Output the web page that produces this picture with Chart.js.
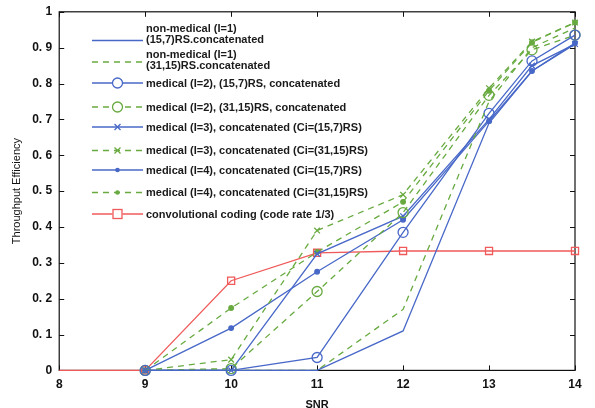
<!DOCTYPE html>
<html><head><meta charset="utf-8">
<script src="https://cdn.jsdelivr.net/npm/chart.js@4.4.1/dist/chart.umd.min.js"></script>
<style>html,body{margin:0;padding:0;background:#fff}#wrap{width:595px;height:408px}</style>
</head><body><div id="wrap"><canvas id="c" width="595" height="408"></canvas></div>
<script>
const snr = [9, 10, 11, 12, 13, 13.5, 14];
const snrConv = [8, 9, 10, 11, 12, 13, 14];
const nonMed157 = [0, 0, 0, 0.11, 0.69, 0.835, 0.91];
const nonMed3115 = [0, 0, 0, 0.17, 0.75, 0.9, 0.955];
const med2_157 = [0, 0, 0.036, 0.385, 0.717, 0.863, 0.935];
const med2_3115 = [0, 0.005, 0.22, 0.44, 0.767, 0.894, 0.935];
const med3_157 = [0, 0, 0.325, 0.43, 0.70, 0.85, 0.91];
const med3_3115 = [0, 0.03, 0.39, 0.49, 0.787, 0.917, 0.97];
const med4_157 = [0, 0.118, 0.275, 0.42, 0.695, 0.835, 0.913];
const med4_3115 = [0, 0.174, 0.33, 0.47, 0.78, 0.915, 0.97];
const convCoding = [0, 0, 0.25, 0.328, 0.333, 0.333, 0.333];
const yTicks = [0, 0.1, 0.2, 0.3, 0.4, 0.5, 0.6, 0.7, 0.8, 0.9, 1];
const xTicks = [8, 9, 10, 11, 12, 13, 14];
const labels = [
  ['non-medical (I=1)', '(15,7)RS.concatenated'],
  ['non-medical (I=1)', '(31,15)RS.concatenated'],
  ['medical (I=2), (15,7)RS, concatenated'],
  ['medical (I=2), (31,15)RS, concatenated'],
  ['medical (I=3), concatenated (Ci=(15,7)RS)'],
  ['medical (I=3), concatenated (Ci=(31,15)RS)'],
  ['medical (I=4), concatenated (Ci=(15,7)RS)'],
  ['medical (I=4), concatenated (Ci=(31,15)RS)'],
  ['convolutional coding (code rate 1/3)']
];

const BLUE = 'rgb(72,104,200)';
const GREEN = 'rgb(104,170,64)';
const RED = 'rgb(240,90,90)';
const DASH = [6, 5];
const pts = (xs, ys) => xs.map((x, i) => ({x, y: ys[i]}));

function ds(i, xs, ys, color, dashed, style, radius, filled) {
  return {
    label: labels[i].join(' '),
    data: pts(xs, ys),
    borderColor: color,
    backgroundColor: filled ? color : 'rgba(0,0,0,0)',
    borderWidth: 1.3,
    borderDash: dashed ? DASH : [],
    pointStyle: style || 'circle',
    pointRadius: style ? radius : 0,
    pointBorderWidth: 1.3,
    pointBorderColor: color,
    pointBackgroundColor: filled ? color : 'rgba(0,0,0,0)',
    tension: 0,
    clip: false
  };
}

const datasets = [
  ds(0, snr, nonMed157, BLUE, false, null, 0, false),
  ds(1, snr, nonMed3115, GREEN, true, null, 0, false),
  ds(2, snr, med2_157, BLUE, false, 'circle', 5, false),
  ds(3, snr, med2_3115, GREEN, true, 'circle', 5, false),
  ds(4, snr, med3_157, BLUE, false, 'crossRot', 4, false),
  ds(5, snr, med3_3115, GREEN, true, 'crossRot', 4, false),
  ds(6, snr, med4_157, BLUE, false, 'circle', 2.3, true),
  ds(7, snr, med4_3115, GREEN, true, 'circle', 2.3, true),
  ds(8, snrConv, convCoding, RED, false, 'rect', 5, false)
];
datasets[8].pointRadius = snrConv.map(x => x === 8 ? 0 : 5);

const legendRows = [40.5, 62, 83, 107, 127, 150.5, 170, 192.5, 214];
const twoLineOffsets = [[-12, -1], [-7, 4]];

const framePlugin = {
  id: 'frame',
  beforeDatasetsDraw(chart) {
    const {ctx, chartArea: a, scales} = chart;
    ctx.save();
    ctx.strokeStyle = '#111';
    ctx.lineWidth = 1.2;
    ctx.strokeRect(a.left, a.top, a.right - a.left, a.bottom - a.top);
    ctx.lineWidth = 1;
    const t = 5;
    xTicks.forEach(v => {
      const x = Math.round(scales.x.getPixelForValue(v)) + 0.5;
      ctx.beginPath();
      ctx.moveTo(x, a.bottom); ctx.lineTo(x, a.bottom - t);
      ctx.moveTo(x, a.top); ctx.lineTo(x, a.top + t);
      ctx.stroke();
    });
    yTicks.forEach(v => {
      const y = Math.round(scales.y.getPixelForValue(v)) + 0.5;
      ctx.beginPath();
      ctx.moveTo(a.left, y); ctx.lineTo(a.left + t, y);
      ctx.moveTo(a.right, y); ctx.lineTo(a.right - t, y);
      ctx.stroke();
    });
    ctx.restore();
  },
  afterDraw(chart) {
    const {ctx} = chart;
    ctx.save();
    ctx.font = 'bold 11px "Liberation Sans", Arial, sans-serif';
    ctx.textBaseline = 'middle';
    ctx.textAlign = 'left';
    datasets.forEach((d, i) => {
      const y = legendRows[i];
      const cx = 117.5;
      ctx.strokeStyle = d.borderColor;
      ctx.lineWidth = 1.3;
      ctx.setLineDash(d.borderDash);
      ctx.beginPath(); ctx.moveTo(92, y); ctx.lineTo(143, y); ctx.stroke();
      ctx.setLineDash([]);
      ctx.strokeStyle = d.borderColor;
      if (i === 8) { ctx.fillStyle = '#fff'; ctx.fillRect(112.5, y - 4.5, 10, 9); ctx.strokeRect(113, y - 4.5, 9, 9); }
      else if (i === 2 || i === 3) { ctx.fillStyle = '#fff'; ctx.beginPath(); ctx.arc(cx, y, 5, 0, Math.PI * 2); ctx.fill(); ctx.stroke(); }
      else if (i === 4 || i === 5) { ctx.beginPath(); ctx.moveTo(cx - 3, y - 3); ctx.lineTo(cx + 3, y + 3); ctx.moveTo(cx + 3, y - 3); ctx.lineTo(cx - 3, y + 3); ctx.stroke(); }
      else if (i === 6 || i === 7) { ctx.fillStyle = d.borderColor; ctx.beginPath(); ctx.arc(cx, y, 2.3, 0, Math.PI * 2); ctx.fill(); }
      ctx.fillStyle = '#1a1a1a';
      const ls = labels[i];
      if (ls.length === 2) {
        ctx.fillText(ls[0], 146, y + twoLineOffsets[i][0]);
        ctx.fillText(ls[1], 146, y + twoLineOffsets[i][1]);
      } else {
        ctx.fillText(ls[0], 146, y + 0.5);
      }
    });
    ctx.restore();
  }
};

new Chart(document.getElementById('c'), {
  type: 'line',
  data: {datasets},
  options: {
    responsive: false,
    animation: false,
    devicePixelRatio: 1,
    layout: {padding: {left: 10, right: 20, top: 5, bottom: -4}},
    plugins: {legend: {display: false}, tooltip: {enabled: false}},
    scales: {
      x: {
        type: 'linear', min: 8, max: 14,
        afterBuildTicks: s => { s.ticks = xTicks.map(v => ({value: v})); },
        grid: {display: false, drawTicks: false},
        border: {display: false},
        ticks: {color: '#111', font: {family: '"Liberation Sans", Arial', size: 12, weight: 'bold'}, padding: 7, maxRotation: 0},
        title: {display: true, text: 'SNR', color: '#111', font: {family: '"Liberation Sans", Arial', size: 11, weight: 'bold'}, padding: {top: 0, bottom: 0}}
      },
      y: {
        type: 'linear', min: 0, max: 1,
        afterBuildTicks: s => { s.ticks = yTicks.map(v => ({value: v})); },
        grid: {display: false, drawTicks: false},
        border: {display: false},
        ticks: {color: '#111', font: {family: '"Liberation Sans", Arial', size: 12, weight: 'bold', lineHeight: 0.8}, padding: 7,
          callback: v => (v === 0 || v === 1) ? String(v) : v.toFixed(1).replace('.', '. ')},
        title: {display: true, text: 'Throughput Efficiency', color: '#111', font: {family: '"Liberation Sans", Arial', size: 11}, padding: {top: 0, bottom: 2}}
      }
    }
  },
  plugins: [framePlugin]
});
</script></body></html>
